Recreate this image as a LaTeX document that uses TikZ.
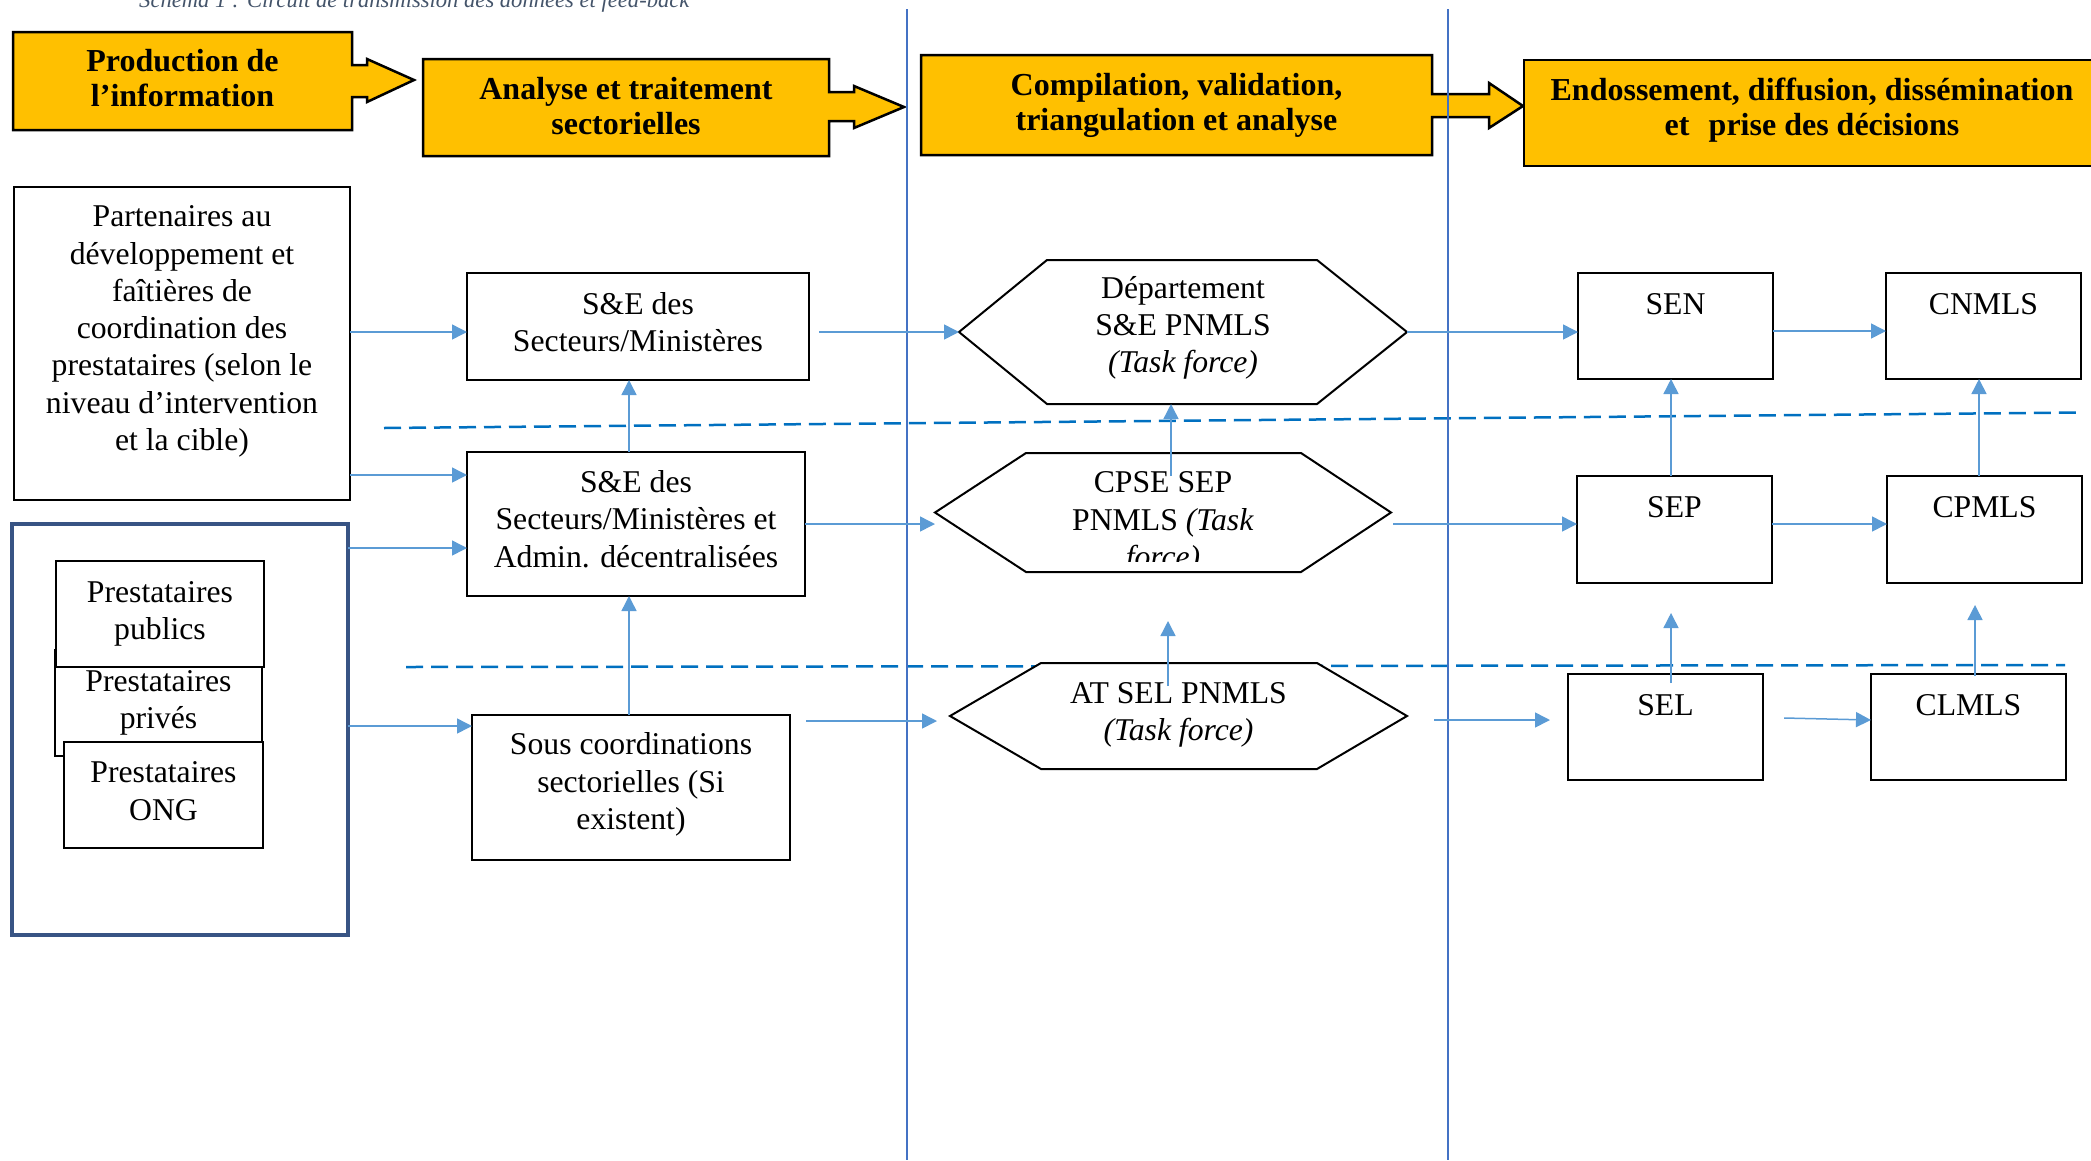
\documentclass[tikz,border=0pt]{standalone}
\usepackage{fontspec}
\setmainfont{Liberation Serif}
\usetikzlibrary{arrows.meta,calc,backgrounds}
\pgfdeclarelayer{back}
\pgfsetlayers{back,background,main}
\definecolor{hdrfill}{RGB}{255,192,0}
\definecolor{arrblue}{RGB}{91,155,213}
\definecolor{vlineblue}{RGB}{68,114,196}
\definecolor{dashblue}{RGB}{0,112,192}
\definecolor{frameblue}{RGB}{56,84,132}
\definecolor{capgrey}{RGB}{68,84,106}
\newcommand\bodyfnt{\fontsize{31.7}{37.3}\selectfont}
\newcommand\hdrfnt{\fontsize{32}{35}\selectfont\bfseries}
\newcommand\drawhex[3]{\draw[hexline] (#1.west) -- ($(#1.north west)+(#2,0)$) -- ($(#1.north east)+(-#3,0)$) -- (#1.east) -- ($(#1.south east)+(-#3,0)$) -- ($(#1.south west)+(#2,0)$) -- cycle;}
\tikzset{
  box/.style={draw=black, line width=2pt, fill=white, inner sep=0pt, outer sep=0pt, align=center, font=\bodyfnt},
  txt/.style={inner sep=0pt, outer sep=0pt, align=center, font=\bodyfnt},
  hdr/.style={inner sep=0pt, outer sep=0pt, align=center, font=\hdrfnt},
  hdrline/.style={draw=black, line width=2.5pt, fill=hdrfill, line join=miter},
  hexn/.style={inner sep=0pt, outer sep=0pt, align=center, font=\bodyfnt},
  hexline/.style={draw=black, line width=2pt, fill=white, line join=miter},
  arr/.style={draw=arrblue, line width=1.5pt, -{Triangle[length=15pt,width=15pt]}},
  vl/.style={draw=vlineblue, line width=2pt},
  dl/.style={draw=dashblue, line width=2.5pt, dash pattern=on 17pt off 8pt},
  toplbl/.style={anchor=base, font=\bodyfnt, inner sep=0pt, yshift=-41pt},
}
\begin{document}
\begin{tikzpicture}[x=1pt,y=-1pt]
\useasboundingbox (0,0) rectangle (2091,1160);

% caption (cut by the page top, as in the source)
\node[anchor=base west, inner sep=0pt, font=\fontsize{22.6}{26}\selectfont\itshape, text=capgrey] (cap) at (139,7) {Schéma 1 : Circuit de transmission des données et feed-back};

% dashed level separators
\begin{pgfonlayer}{back}
\draw[dl] (384,428) -- (2082,412.5);
\draw[dl] (406,667) -- (2065,665);
\end{pgfonlayer}

% header arrows
\node[hdr, minimum width=339pt, minimum height=98pt] (prod) at (182.5,81) {};
\node[hdr, minimum width=406pt, minimum height=97pt] (anal) at (626,107.5) {};
\node[hdr, minimum width=511pt, minimum height=100pt] (comp) at (1176.5,105) {};
\node[hdr, draw=black, line width=2.5pt, fill=hdrfill, minimum width=576pt, minimum height=106pt] (endo) at (1812,113) {};
\begin{scope}[on background layer]
\draw[hdrline] (prod.north west) -- (prod.north east) -- ++(0,33) -- ++(15,0) -- ++(0,-6) -- ++(47,21) -- ++(-47,22) -- ++(0,-5) -- ++(-15,0) -- (prod.south east) -- (prod.south west) -- cycle;
\draw[hdrline] (anal.north west) -- (anal.north east) -- ++(0,33) -- ++(25,0) -- ++(0,-6) -- ++(50,21) -- ++(-50,21) -- ++(0,-7) -- ++(-25,0) -- (anal.south east) -- (anal.south west) -- cycle;
\draw[hdrline] (comp.north west) -- (comp.north east) -- ++(0,39) -- ++(57,0) -- ++(0,-11) -- ++(34,23) -- ++(-34,22) -- ++(0,-11) -- ++(-57,0) -- (comp.south east) -- (comp.south west) -- cycle;
\end{scope}
\node[hdr] (prodT) at (182.5,78.5) {Production de\\l’information};
\node[hdr] (analT) at (626,106.5) {Analyse et traitement\\sectorielles};
\node[hdr] (compT) at (1176.5,105) {Compilation, validation,\\triangulation et analyse};
\node[hdr] (endoT) at (1812,110) {Endossement, diffusion, dissémination\\et\hspace{0.6em}prise des décisions};

% column separators
\draw[vl] (907,9) -- (907,1160);
\draw[vl] (1448,9) -- (1448,1160);

% left column
\node[box, minimum width=336pt, minimum height=313pt] (part) at (182,343.5) {};
\node[txt] (partT) at (182,331.5) {Partenaires au\\développement et\\faîtières de\\coordination des\\prestataires (selon le\\niveau d’intervention\\et la cible)};
\node[draw=frameblue, line width=4pt, inner sep=0pt, outer sep=0pt, minimum width=336pt, minimum height=411pt] (prest) at (180,729.5) {};
\node[box, minimum width=207pt, minimum height=106pt] (prive) at (158.5,703) {Prestataires\\privés};
\node[box, minimum width=208pt, minimum height=106pt] (publ) at (160,614) {Prestataires\\publics};
\node[box, minimum width=199pt, minimum height=106pt] (ong) at (163.5,795) {};
\node[txt] (ongT) at (163.5,791) {Prestataires\\ONG};

% sector column
\node[box, minimum width=342pt, minimum height=107pt] (se1) at (638,326.5) {};
\node[txt] (se1T) at (638,322) {S\&E des\\Secteurs/Ministères};
\node[box, minimum width=338pt, minimum height=144pt] (se2) at (636,524) {};
\node[txt] (se2T) at (636,519) {S\&E des\\Secteurs/Ministères et\\Admin. décentralisées};
\node[box, minimum width=318pt, minimum height=145pt] (sous) at (631,787.5) {};
\node[txt] (sousT) at (631,784.5) {Sous coordinations\\sectorielles (Si\\existent)};

% PNMLS hexagons
\node[hexn, minimum width=448pt, minimum height=144pt] (dep) at (1183,332) {};
\node[hexn, minimum width=456pt, minimum height=119pt] (cpse) at (1163,512.5) {};
\node[hexn, minimum width=457pt, minimum height=106pt] (atsel) at (1178.5,716) {};
\begin{scope}[on background layer]
\drawhex{dep}{88}{90}
\drawhex{cpse}{91}{90}
\drawhex{atsel}{91}{90}
\end{scope}
\node[txt] (depT) at (1183,328) {Département\\S\&E PNMLS\\\textit{(Task force)}};
\node[txt] (atselT) at (1178.5,715) {AT SEL PNMLS\\\textit{(Task force)}};
\begin{scope}
\clip (935,440) rectangle (1391,561);
\node[txt] (cpseT) at (1163,523) {CPSE SEP\\PNMLS \textit{(Task}\\\textit{force)}};
\end{scope}

% right columns
\node[box, minimum width=195pt, minimum height=106pt, label={[toplbl]north:SEN}] (sen) at (1675.5,326) {};
\node[box, minimum width=195pt, minimum height=106pt, label={[toplbl]north:CNMLS}] (cnmls) at (1983.5,326) {};
\node[box, minimum width=195pt, minimum height=107pt, label={[toplbl]north:SEP}] (sep) at (1674.5,529.5) {};
\node[box, minimum width=195pt, minimum height=107pt, label={[toplbl]north:CPMLS}] (cpmls) at (1984.5,529.5) {};
\node[box, minimum width=195pt, minimum height=106pt, label={[toplbl]north:SEL}] (sel) at (1665.5,727) {};
\node[box, minimum width=195pt, minimum height=106pt, label={[toplbl]north:CLMLS}] (clmls) at (1968.5,727) {};

% connectors
\draw[arr] (part.east |- 0,332) -- (se1.west |- 0,332);
\draw[arr] (part.east |- 0,475) -- (se2.west |- 0,475);
\draw[arr] (prest.east |- 0,548) -- (se2.west |- 0,548);
\draw[arr] (prest.east |- 0,726) -- (sous.west |- 0,726);
\draw[arr] (se2.north -| 629,0) -- (se1.south -| 629,0);
\draw[arr] (sous.north -| 629,0) -- (se2.south -| 629,0);
\draw[arr] ($(se1.east |- dep.west)+(10,0)$) -- (dep.west);
\draw[arr] (se2.east |- 0,524) -- (cpse.west |- 0,524);
\draw[arr] ($(sous.east |- 0,721)+(16,0)$) -- ($(atsel.west |- 0,721)+(-13,0)$);
\draw[arr] (dep.east) -- (sen.west |- dep.east);
\draw[arr] (sen.east |- 0,331) -- (cnmls.west |- 0,331);
\draw[arr] ($(cpse.east |- 0,524)+(2,0)$) -- (sep.west |- 0,524);
\draw[arr] (sep.east |- 0,524) -- (cpmls.west |- 0,524);
\draw[arr] ($(atsel.east |- 0,720)+(27,0)$) -- ($(sel.west |- 0,720)+(-18,0)$);
\draw[arr] ($(sel.east |- 0,718)+(21,0)$) -- (clmls.west |- 0,720);
\draw[arr] ($(cpse.north -| 1171,0)+(0,23)$) -- (dep.south -| 1171,0);
\draw[arr] ($(atsel.north -| 1168,0)+(0,23)$) -- ($(cpse.south -| 1168,0)+(0,49)$);
\draw[arr] (sep.north -| 1671,0) -- (sen.south -| 1671,0);
\draw[arr] (cpmls.north -| 1979,0) -- (cnmls.south -| 1979,0);
\draw[arr] ($(sel.north -| 1671,0)+(0,9)$) -- ($(sep.south -| 1671,0)+(0,30)$);
\draw[arr] ($(clmls.north -| 1975,0)+(0,2)$) -- ($(cpmls.south -| 1975,0)+(0,22)$);
\end{tikzpicture}
\end{document}
